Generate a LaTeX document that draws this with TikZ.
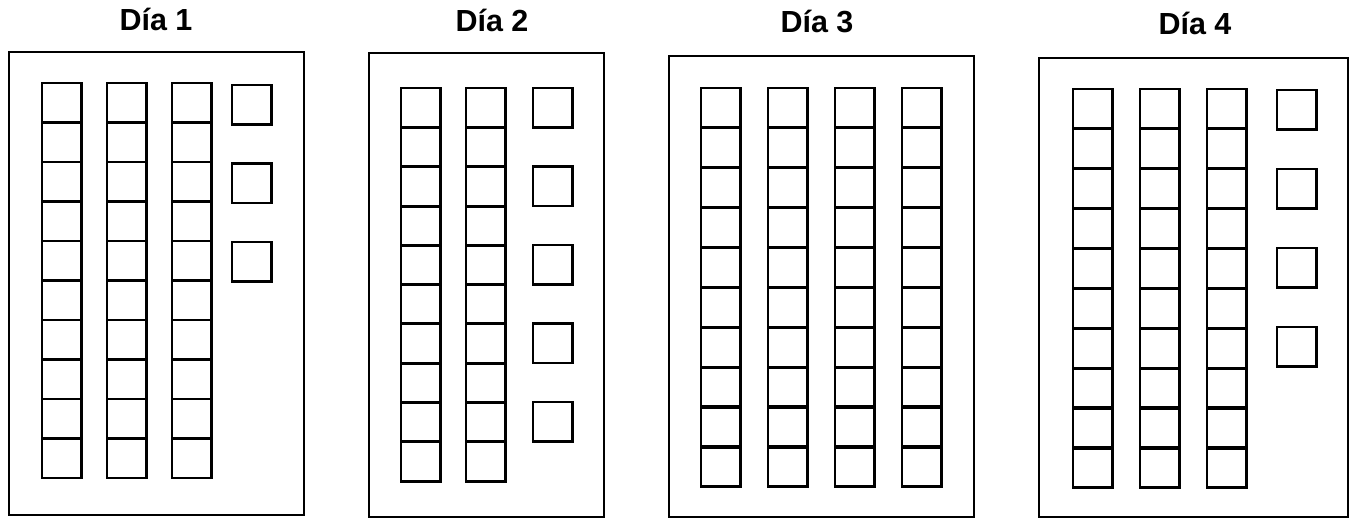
\documentclass[tikz,border=0pt]{standalone}
\usepackage{fontspec}
\setmainfont{Liberation Sans}
\begin{document}
\begin{tikzpicture}[x=1pt, y=-1pt,
  cell/.style={rectangle, draw, line width=2.8pt, minimum size=39.5pt, inner sep=0pt, outer sep=0pt, anchor=north west},
  frame/.style={rectangle, draw, line width=2.2pt, inner sep=0pt, outer sep=0pt, anchor=north west},
  title/.style={font=\fontsize{30.5}{35}\selectfont\bfseries, anchor=base},
]
  \useasboundingbox (0,0) rectangle (1356,519);

  % Titles
  \node[title] (t1) at (156, 31) {Día 1};
  \node[title] (t2) at (492, 32) {Día 2};
  \node[title] (t3) at (817, 33) {Día 3};
  \node[title] (t4) at (1195, 35) {Día 4};

  % Frames
  \node[frame, minimum width=295pt, minimum height=463pt] (f1) at (9, 52) {};
  \node[frame, minimum width=235pt, minimum height=464pt] (f2) at (369, 53) {};
  \node[frame, minimum width=305pt, minimum height=461pt] (f3) at (669, 56) {};
  \node[frame, minimum width=309pt, minimum height=459pt] (f4) at (1039, 58) {};

  % Dia 1: three tens and three ones
  \foreach \i in {0,...,2} \foreach \j in {0,...,9}
    \node[cell] (c1-\i-\j) at (42+65*\i, 83+39.5*\j) {};
  \foreach \k in {0,...,2}
    \node[cell] (s1-\k) at (232, 85+78.5*\k) {};

  % Dia 2: two tens and five ones
  \foreach \i in {0,...,1} \foreach \j in {0,...,9}
    \node[cell] (c2-\i-\j) at (401+65*\i, 88+39.3*\j) {};
  \foreach \k in {0,...,4}
    \node[cell] (s2-\k) at (533, 88+78.5*\k) {};

  % Dia 3: four tens
  \foreach \i in {0,...,3} \foreach \j in {0,...,9}
    \node[cell] (c3-\i-\j) at (701+67*\i, 88+39.9*\j) {};

  % Dia 4: three tens and four ones
  \foreach \i in {0,...,2} \foreach \j in {0,...,9}
    \node[cell] (c4-\i-\j) at (1073+67*\i, 89+39.9*\j) {};
  \foreach \k in {0,...,3}
    \node[cell] (s4-\k) at (1277, 90+79*\k) {};
\end{tikzpicture}
\end{document}
